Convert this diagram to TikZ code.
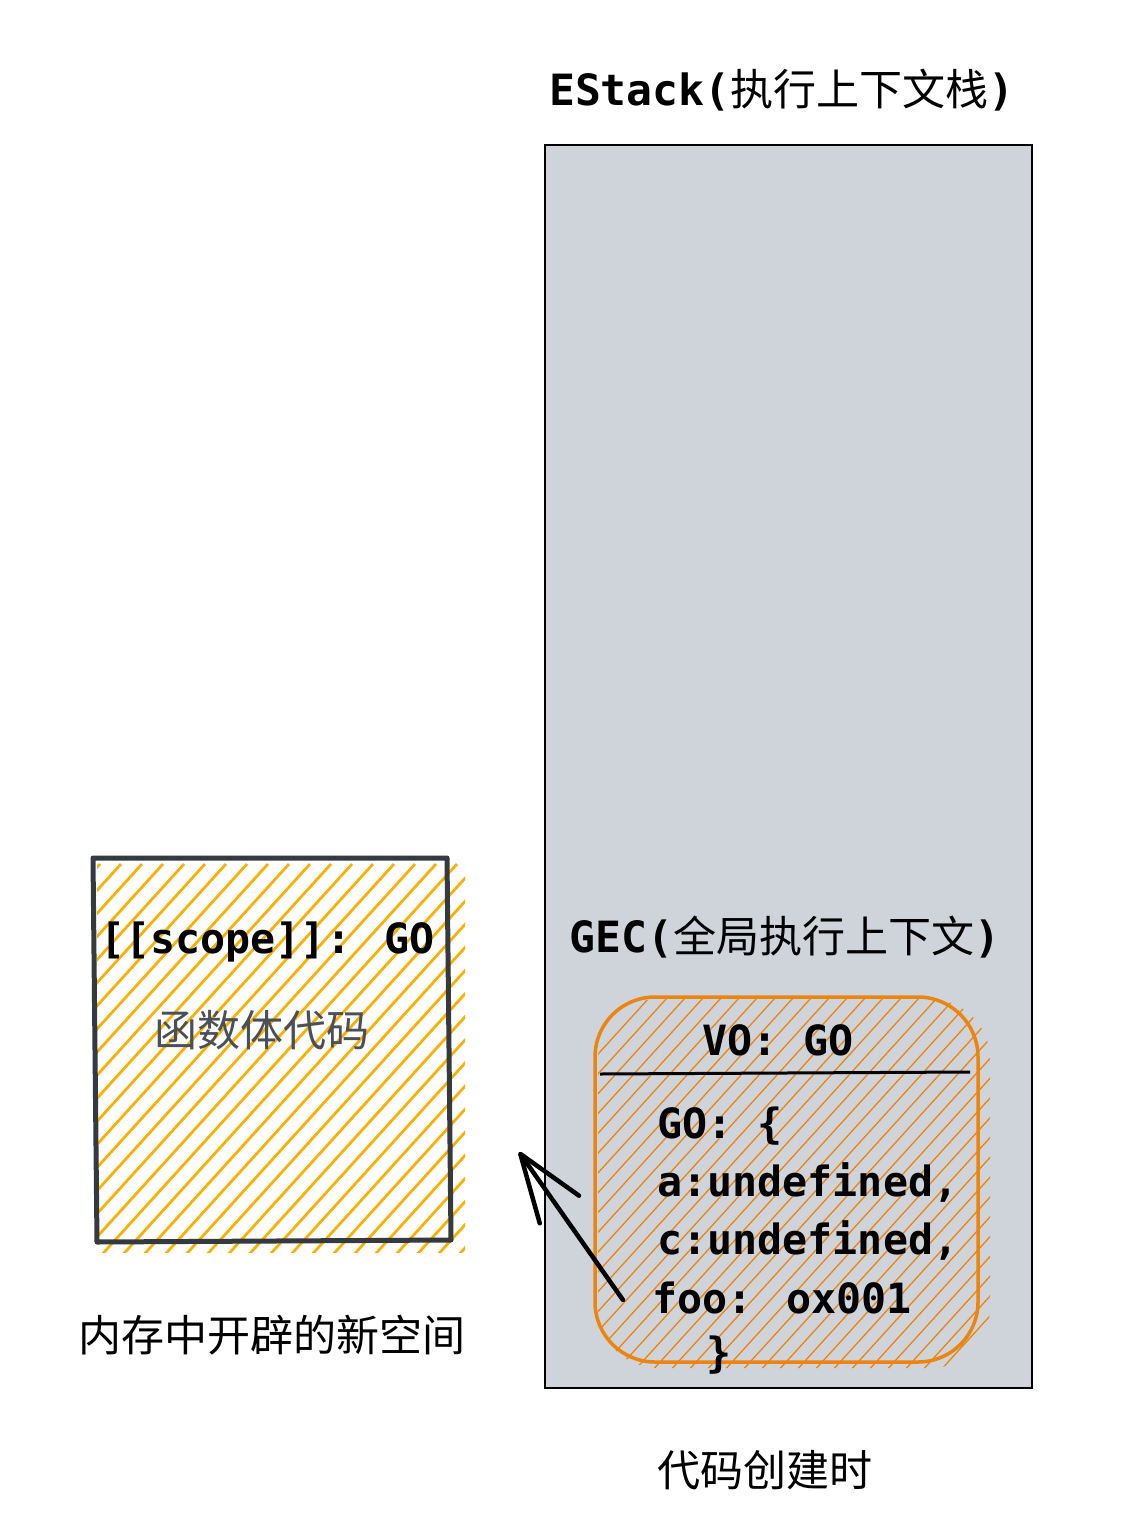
\documentclass[tikz,border=0pt]{standalone}
\usepackage{fontspec}
\setmainfont{Noto Sans CJK SC}
\newfontfamily\codefont{DejaVu Sans Mono}
\usetikzlibrary{arrows.meta}

\definecolor{stackgray}{HTML}{CED4DA}
\definecolor{boxedge}{HTML}{343A40}
\definecolor{hatchyellow}{HTML}{FAB005}
\definecolor{voorange}{HTML}{EC8410}
\definecolor{bodygray}{HTML}{495057}

\begin{document}
\begin{tikzpicture}[x=0.2mm,y=-0.2mm,
    label/.style={font=\fontsize{24.5}{29}\selectfont,inner sep=0},
    code/.style={font=\codefont\bfseries\fontsize{23.7}{29}\selectfont,inner sep=0,anchor=base west},
    yellowhatch/.style={hatchyellow,line width=0.55mm},
    orangehatch/.style={voorange,line width=0.26mm},
    pointer/.style={line width=0.9mm,line cap=round,-{Straight Barb[length=13.6mm,width=9.6mm,round]}}]
  \useasboundingbox (0,0) rectangle (1126,1532);

  % execution stack
  \draw[fill=stackgray,line width=0.35mm] (545,145) rectangle (1032,1388);
  \node[label] (estack) at (782,90) {{\codefont\bfseries EStack(}执行上下文栈{\codefont\bfseries )}};
  \node[label] (gec) at (785,937) {{\codefont\bfseries GEC(}全局执行上下文{\codefont\bfseries )}};

  % VO box
  \begin{scope}
    \clip[rounded corners=12mm] (598,999) rectangle (990,1368);
    \foreach \i in {-19,...,22}
      \draw[orangehatch] (597+\i*18,1372) -- ++(340,-374);
  \end{scope}
  \draw[voorange,line width=0.7mm,rounded corners=12mm] (595,997) rectangle (978,1362);
  \draw[line width=0.6mm] (600,1074) -- (970,1072);
  \node[code,anchor=center] (vo) at (778,1040) {VO: GO};
  \node[code] (golabel) at (657,1138) {GO: \{};
  \node[code] (aline) at (657,1196) {a:undefined,};
  \node[code] (cline) at (657,1254) {c:undefined,};
  \node[code] (fooline) at (652,1313) {foo: ox001};
  \node[code] (closing) at (706,1367) {\}};

  % new space in memory
  \begin{scope}
    \clip (97,862) rectangle (465,1252);
    \foreach \i in {-18,...,18}
      \draw[yellowhatch] (97+\i*21,1260) -- ++(360,-396);
  \end{scope}
  \draw[boxedge,line width=1mm,line join=round] (93,858) -- (447,858) -- (451,1240) -- (97,1242) -- cycle;
  \node[code] (scopelabel) at (100,953) {[[scope]]: GO};
  \node[label,text=bodygray] (bodylabel) at (262,1030) {函数体代码};
  \node[label] (memlabel) at (272,1335) {内存中开辟的新空间};

  \node[label] (timelabel) at (765,1470) {代码创建时};

  % pointer to function object
  \coordinate (tail) at (623,1300);
  \coordinate (tip) at (519,1152);
  \draw[pointer] (tail) -- (tip);
\end{tikzpicture}
\end{document}
